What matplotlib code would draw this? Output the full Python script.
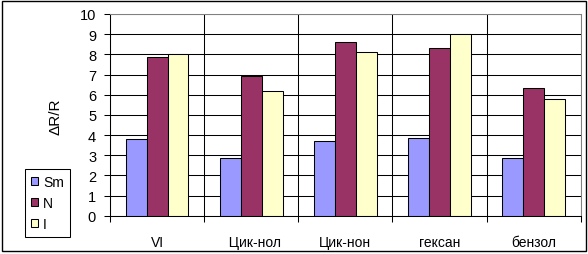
import numpy as np
import matplotlib
matplotlib.use('Agg')
import matplotlib.pyplot as plt
from matplotlib.patches import Rectangle

plt.rcParams['font.family'] = ['Liberation Sans', 'DejaVu Sans']

# data
categories = ['VI', '  Цик-нол', 'Цик-нон', 'гексан', 'бензол']
series_names = ['Sm', 'N', 'I']
sm_vals = [3.8, 2.85, 3.7, 3.85, 2.85]
n_vals = [7.88, 6.93, 8.63, 8.33, 6.34]
i_vals = [8.0, 6.19, 8.13, 9.02, 5.79]
colors = ['#9999FF', '#993366', '#FFFFCC']

fig = plt.figure(figsize=(5.88, 2.55), dpi=100)
fig.patches.append(Rectangle((2/588, 3/255), 584/588, 250/255, transform=fig.transFigure,
                             fill=False, edgecolor='black', linewidth=1.0))

ax = fig.add_axes([110/588, 1 - 216.7/255, 470.7/588, 201.7/255])

x = np.arange(1, len(categories) + 1)
w = 1 / 4.5
for k, (vals, col, name) in enumerate(zip([sm_vals, n_vals, i_vals], colors, series_names)):
    ax.bar(x + (k - 1) * w, vals, width=w, color=col, edgecolor='black',
           linewidth=0.75, label=name, zorder=3)

ax.set_xlim(0.5, len(categories) + 0.5)
ax.set_ylim(0, 10)
ax.set_yticks(range(0, 11))
ax.set_xticks(x)
ax.set_xticklabels(categories)
ax.set_xticks(np.arange(0.5, len(categories) + 1), minor=True)

ax.tick_params(axis='y', direction='out', length=4, width=0.75, pad=6, labelsize=10.5, colors='black')
ax.tick_params(axis='x', which='major', length=0, pad=14, labelsize=10)
ax.tick_params(axis='x', which='minor', direction='out', length=4, width=0.75)

ax.grid(axis='y', color='black', linewidth=0.75, zorder=1)
ax.grid(axis='x', which='minor', color='black', linewidth=0.75, zorder=1)
ax.set_axisbelow(True)

for side in ['top', 'right']:
    ax.spines[side].set_color('#808080')
    ax.spines[side].set_zorder(4)
for side in ['left', 'bottom']:
    ax.spines[side].set_color('black')
    ax.spines[side].set_zorder(4)
for s in ax.spines.values():
    s.set_linewidth(0.75)

ax.set_ylabel('ΔR/R', fontsize=11)
ax.yaxis.set_label_coords(-0.1, 0.494)

leg = fig.legend(loc='upper left', bbox_to_anchor=(18/588, 1 - 163/255), fontsize=10,
                 handlelength=0.5, handleheight=0.5, handletextpad=0.35, labelspacing=0.5,
                 borderpad=0.45, fancybox=False, framealpha=1, edgecolor='black')
leg.get_frame().set_linewidth(0.75)

fig.savefig('out.png', dpi=100)
